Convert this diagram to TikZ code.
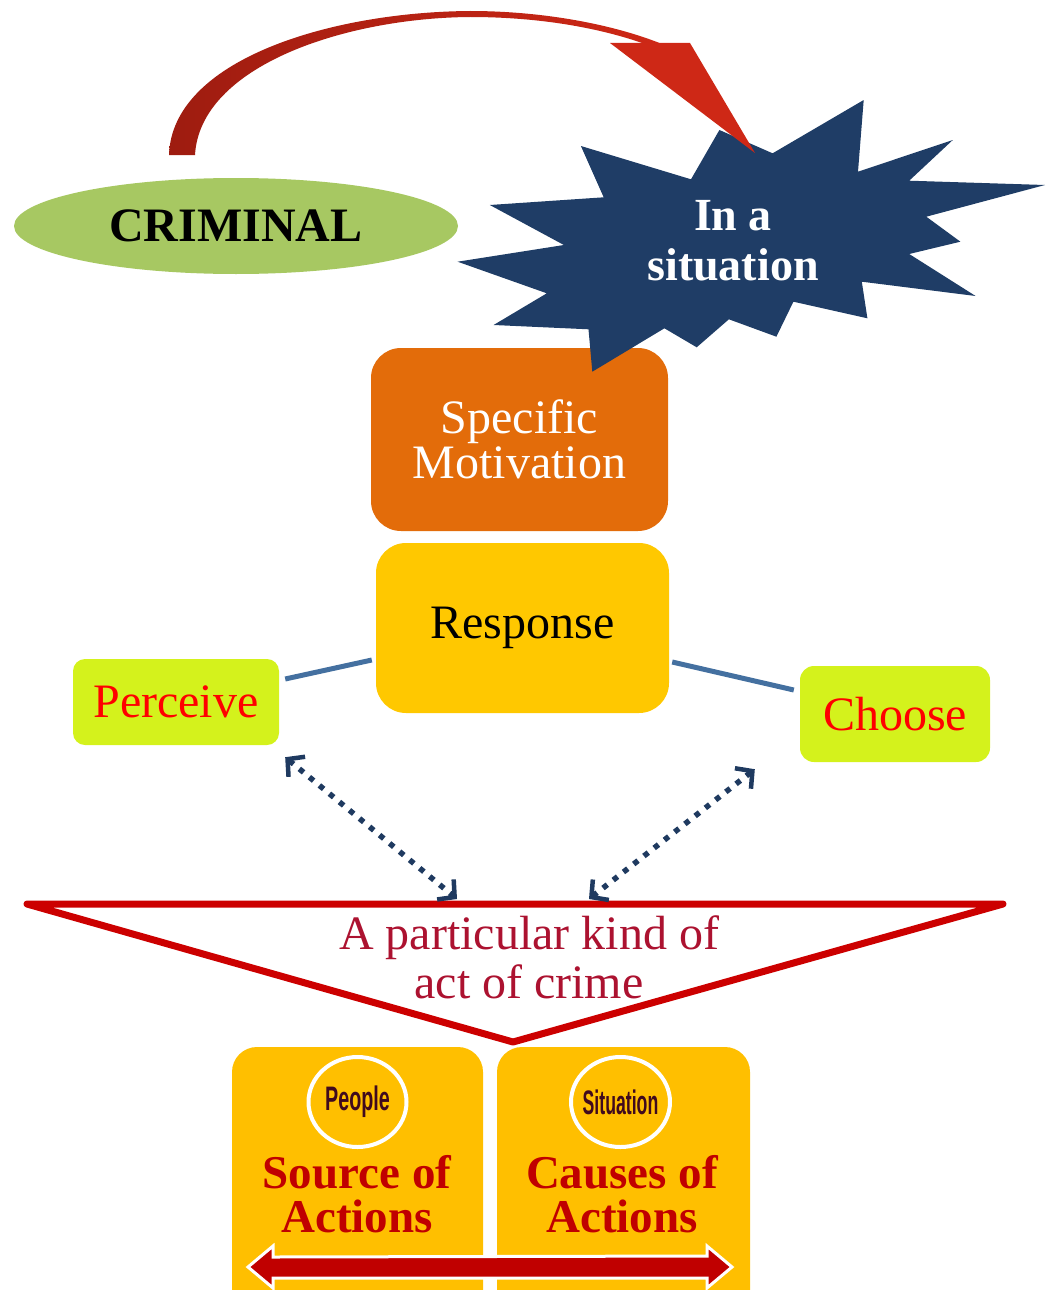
\documentclass[tikz,border=0pt]{standalone}
\usepackage{fontspec}
\setmainfont{Liberation Serif}
\newfontfamily\tagfont{Liberation Sans}
\usetikzlibrary{arrows.meta,shapes.geometric}
\definecolor{critgreen}{RGB}{167,200,98}
\definecolor{starnavy}{RGB}{31,61,102}
\definecolor{motorange}{RGB}{227,108,10}
\definecolor{respgold}{RGB}{255,200,0}
\definecolor{limebox}{RGB}{212,242,28}
\definecolor{basegold}{RGB}{255,191,0}
\definecolor{arcdark}{RGB}{158,28,16}
\definecolor{arcred}{RGB}{206,40,22}
\definecolor{linkblue}{RGB}{68,112,160}
\definecolor{dotnavy}{RGB}{31,58,96}
\definecolor{vred}{RGB}{204,0,0}
\definecolor{crimetext}{RGB}{172,18,48}
\definecolor{actred}{RGB}{192,0,0}
\definecolor{tagmaroon}{RGB}{64,10,30}
\begin{document}
\begin{tikzpicture}[x=1pt,y=-1pt,
  big/.style={font={\fontsize{48}{45}\selectfont}},
  rbox/.style={draw=none,inner sep=0pt,align=center,big},
  link/.style={draw=linkblue,line width=5pt},
  dotarrow/.style={draw=dotnavy,line width=5.5pt,dash pattern=on 5.5pt off 7.5pt,
    {Straight Barb[length=12pt,width=26pt,line width=4.5pt]}-{Straight Barb[length=12pt,width=26pt,line width=4.5pt]}},
  tagring/.style={ellipse,draw=white,line width=4pt,fill=basegold,inner sep=0pt},
  tagtext/.style={font={\tagfont\bfseries\fontsize{34}{36}\selectfont},text=tagmaroon},
  acttext/.style={font={\bfseries\fontsize{47}{44}\selectfont},text=actred,align=center}
]
\clip (0,0) rectangle (1047,1290);

% criminal ellipse
\node[ellipse,fill=critgreen,minimum width=444pt,minimum height=96pt,inner sep=0pt,
  font={\bfseries\fontsize{48}{50}\selectfont}] (crim) at (236,226) {CRIMINAL};

% motivation box (sits under the star)
\node[rbox,fill=motorange,text=white,minimum width=297pt,minimum height=183pt,
  rounded corners=30pt] (motiv) at (519.5,439.5) {Specific\\Motivation};

% the situation star
\fill[starnavy] (719.4,130) -- (772.6,153.3) -- (863.7,100) -- (858,171.7)
  -- (952.8,140) -- (909.2,180.7) -- (1045,185) -- (926.3,216.7)
  -- (960.4,241.7) -- (909.2,254) -- (975.6,296) -- (861.8,281.7)
  -- (867.4,318.3) -- (793.4,301.7) -- (776.4,336.7) -- (728.9,319.3)
  -- (696.7,347.3) -- (664.4,328.3) -- (592.3,371.7) -- (588.5,329.3)
  -- (493.6,325) -- (546.8,293.3) -- (457.6,261.7) -- (563.9,245)
  -- (489.8,205) -- (603.7,197.3) -- (580.9,146) -- (691,179.3) -- cycle;
\node[text=white,align=center,font={\bfseries\fontsize{46}{50}\selectfont}]
  (sit) at (733,241) {In a\\situation};

% curved arrow from the criminal to the situation
\path[left color=arcdark,right color=arcred]
  (169,155) .. controls (172,60) and (330,12) .. (470,11)
  .. controls (545,11) and (615,25) .. (662,44)
  -- (645,44) .. controls (600,28) and (540,17) .. (470,17)
  .. controls (345,18) and (200,66) .. (195,155) -- cycle;
\fill[arcred] (610,43) -- (690,43) -- (755,153) -- cycle;

% response and its two sides
\node[rbox,fill=respgold,minimum width=293pt,minimum height=170pt,
  rounded corners=30pt] (resp) at (522.5,628) {Response};
\node[rbox,fill=limebox,text=red,minimum width=206pt,minimum height=86pt,
  rounded corners=12pt] (perc) at (176,702) {Perceive};
\node[rbox,fill=limebox,text=red,minimum width=190pt,minimum height=96pt,
  rounded corners=14pt] (choose) at (895,714) {Choose};

\draw[link] ([xshift=6pt,yshift=23pt]perc.east) -- ([xshift=-4pt,yshift=-32pt]resp.west);
\draw[link] ([xshift=3pt,yshift=-34pt]resp.east) -- ([xshift=-6pt,yshift=24pt]choose.west);

% the act of crime
\coordinate (tl) at (27,904);
\coordinate (tr) at (1003,904);
\coordinate (tb) at (513,1042);
\draw[vred,line width=7pt,line join=round,line cap=round] (tl) -- (tr) -- (tb) -- cycle;
\node[text=crimetext,align=center,font={\fontsize{48}{49}\selectfont}]
  (act) at (529,957) {A particular kind of\\act of crime};

\coordinate (hitA) at (457,899);
\coordinate (hitB) at (589,899);
\draw[dotarrow] ([xshift=6pt,yshift=-12pt]perc.south east) -- (hitA);
\draw[dotarrow] ([xshift=-45pt,yshift=-7pt]choose.south west) -- (hitB);

% people and situation boxes
\node[fill=basegold,rounded corners=25pt,minimum width=251pt,minimum height=290pt,inner sep=0pt]
  (people) at (357.5,1192) {};
\node[fill=basegold,rounded corners=25pt,minimum width=253pt,minimum height=290pt,inner sep=0pt]
  (situ) at (623.5,1192) {};

\node[tagring,minimum width=98pt,minimum height=90pt] (pring) at (357.5,1102) {};
\node[tagring,minimum width=99pt,minimum height=90pt] (sring) at (620.5,1102) {};
\node[tagtext] at (pring.center) {\scalebox{0.58}[1]{People}};
\node[tagtext] at (sring.center) {\scalebox{0.52}[1]{Situation}};

\node[acttext] (src) at (357,1194) {Source of\\Actions};
\node[acttext] (cause) at (622,1194) {Causes of\\Actions};

% double arrow across both boxes
\coordinate (dl) at (248,1267);
\coordinate (dr) at (732,1267);
\fill[actred,draw=white,line width=3pt,line join=miter]
  (dl) -- ++(25,-21) -- ++(0,11) -- (707,1256) -- ++(0,-10) -- (dr)
  -- (707,1288) -- ++(0,-10) -- (273,1278) -- ++(0,10) -- cycle;
\end{tikzpicture}
\end{document}
